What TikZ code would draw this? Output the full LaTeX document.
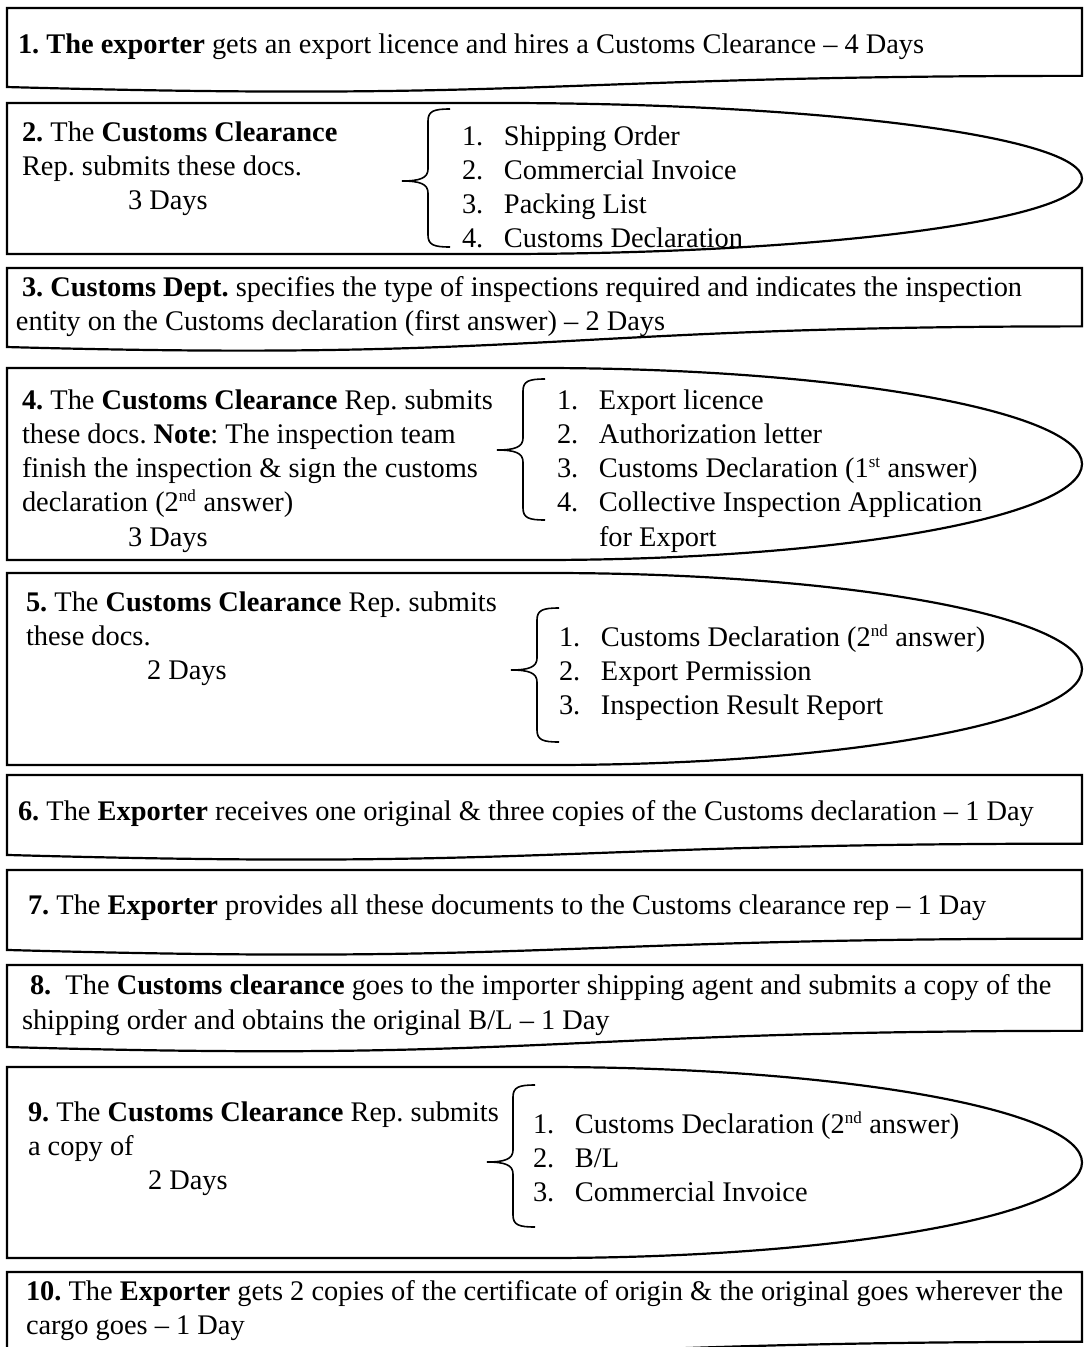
\documentclass[tikz,border=0pt]{standalone}
\usepackage{fontspec}
\setmainfont{Liberation Serif}
\frenchspacing
\newcommand\tline[4]{\node[txt] (#1) at (#2,#3) {#4};}
\newcommand\docbox[4]{\draw[box] (7,#2) -- (1082,#2) -- (1082,{#2+#4*#3}) .. controls (545,{#2+#4*#3}) and (545,{#2+1.109*#3}) .. (7,{#2+0.934*#3}) -- cycle;}
\newcommand\dshape[4]{\draw[box] (7,#3) -- (7,#2) -- (#4,#2) arc[start angle=-90,end angle=90,x radius={1082-#4},y radius={(#3-#2)/2}] -- cycle;}
\newcommand\brc[4]{\draw[brc] ({#1+48},#2) .. controls ({#1+32},#2) and ({#1+26},{#2+2}) .. ({#1+26},{#2+12}) -- ({#1+26},{#3-12}) .. controls ({#1+26},{#3-3}) and ({#1+18},#3) .. (#1,#3) .. controls ({#1+18},#3) and ({#1+26},{#3+3}) .. ({#1+26},{#3+12}) -- ({#1+26},{#4-12}) .. controls ({#1+26},{#4-2}) and ({#1+32},#4) .. ({#1+48},#4);}
\newcommand\sups[1]{\textsuperscript{\fontsize{17}{17}\selectfont #1}}
\begin{document}
\begin{tikzpicture}[x=1pt,y=-1pt,
  box/.style={draw=black,line width=2.2pt,fill=white},
  brc/.style={draw=black,line width=1.6pt},
  txt/.style={anchor=base west,inner sep=0pt,outer sep=0pt,font=\fontsize{28.4}{34}\selectfont\frenchspacing}]
\useasboundingbox (0,0) rectangle (1084,1347);
\clip (0,0) rectangle (1084,1347);
\fill[white] (0,0) rectangle (1084,1347);
% boxes
\docbox{b1}{8}{84.6}{0.802}
\dshape{b2}{103}{254}{500}
\docbox{b3}{268}{84.6}{0.69}
\dshape{b4}{368}{560}{540}
\dshape{b5}{573}{765}{550}
\docbox{b6}{775}{85.6}{0.802}
\docbox{b7}{870}{85.6}{0.802}
\docbox{b8}{965}{87.8}{0.75}
\dshape{b9}{1067}{1258}{545}
\docbox{b10}{1272}{87}{0.802}
% braces
\brc{402}{109}{181}{247}
\brc{497}{379}{450}{520}
\brc{511}{608}{670}{742}
\brc{487}{1085}{1162}{1227}
% box 1
\tline{t1}{18}{53}{\textbf{1. The exporter} gets an export licence and hires a Customs Clearance \textendash{} 4 Days}
% box 2
\tline{t2a}{22}{141}{\textbf{2.} The \textbf{Customs Clearance}}
\tline{t2b}{22}{175}{Rep. submits these docs.}
\tline{t2c}{128}{209}{3 Days}
\tline{l2a}{462}{145}{\makebox[42pt][l]{1.}Shipping Order}
\tline{l2b}{462}{179}{\makebox[42pt][l]{2.}Commercial Invoice}
\tline{l2c}{462}{213}{\makebox[42pt][l]{3.}Packing List}
\tline{l2d}{462}{247}{\makebox[42pt][l]{4.}Customs Declaration}
% box 3
\tline{t3a}{22}{296}{\textbf{3. Customs Dept.} specifies the type of inspections required and indicates the inspection}
\tline{t3b}{16}{330}{entity on the Customs declaration (first answer) \textendash{} 2 Days}
% box 4
\tline{t4a}{22}{409}{\textbf{4.} The \textbf{Customs Clearance} Rep. submits}
\tline{t4b}{22}{443}{these docs. \textbf{Note}: The inspection team}
\tline{t4c}{22}{477}{finish the inspection \& sign the customs}
\tline{t4d}{22}{511}{declaration (2\sups{nd} answer)}
\tline{t4e}{128}{546}{3 Days}
\tline{l4a}{557}{409}{\makebox[42pt][l]{1.}Export licence}
\tline{l4b}{557}{443}{\makebox[42pt][l]{2.}Authorization letter}
\tline{l4c}{557}{477}{\makebox[42pt][l]{3.}Customs Declaration (1\sups{st} answer)}
\tline{l4d}{557}{511}{\makebox[42pt][l]{4.}Collective Inspection Application}
\tline{l4e}{599}{546}{for Export}
% box 5
\tline{t5a}{26}{611}{\textbf{5.} The \textbf{Customs Clearance} Rep. submits}
\tline{t5b}{26}{645}{these docs.}
\tline{t5c}{147}{679}{2 Days}
\tline{l5a}{559}{646}{\makebox[42pt][l]{1.}Customs Declaration (2\sups{nd} answer)}
\tline{l5b}{559}{680}{\makebox[42pt][l]{2.}Export Permission}
\tline{l5c}{559}{714}{\makebox[42pt][l]{3.}Inspection Result Report}
% box 6
\tline{t6}{18}{820}{\textbf{6.} The \textbf{Exporter} receives one original \& three copies of the Customs declaration \textendash{} 1 Day}
% box 7
\tline{t7}{28}{914}{\textbf{7.} The \textbf{Exporter} provides all these documents to the Customs clearance rep \textendash{} 1 Day}
% box 8
\tline{t8a}{30}{994}{\textbf{8.}\ \ The \textbf{Customs clearance} goes to the importer shipping agent and submits a copy of the}
\tline{t8b}{22}{1029}{shipping order and obtains the original B/L \textendash{} 1 Day}
% box 9
\tline{t9a}{28}{1121}{\textbf{9.} The \textbf{Customs Clearance} Rep. submits}
\tline{t9b}{28}{1155}{a copy of}
\tline{t9c}{148}{1189}{2 Days}
\tline{l9a}{533}{1133}{\makebox[42pt][l]{1.}Customs Declaration (2\sups{nd} answer)}
\tline{l9b}{533}{1167}{\makebox[42pt][l]{2.}B/L}
\tline{l9c}{533}{1201}{\makebox[42pt][l]{3.}Commercial Invoice}
% box 10
\tline{t10a}{26}{1300}{\textbf{10.} The \textbf{Exporter} gets 2 copies of the certificate of origin \& the original goes wherever the}
\tline{t10b}{26}{1334}{cargo goes \textendash{} 1 Day}
\end{tikzpicture}
\end{document}
